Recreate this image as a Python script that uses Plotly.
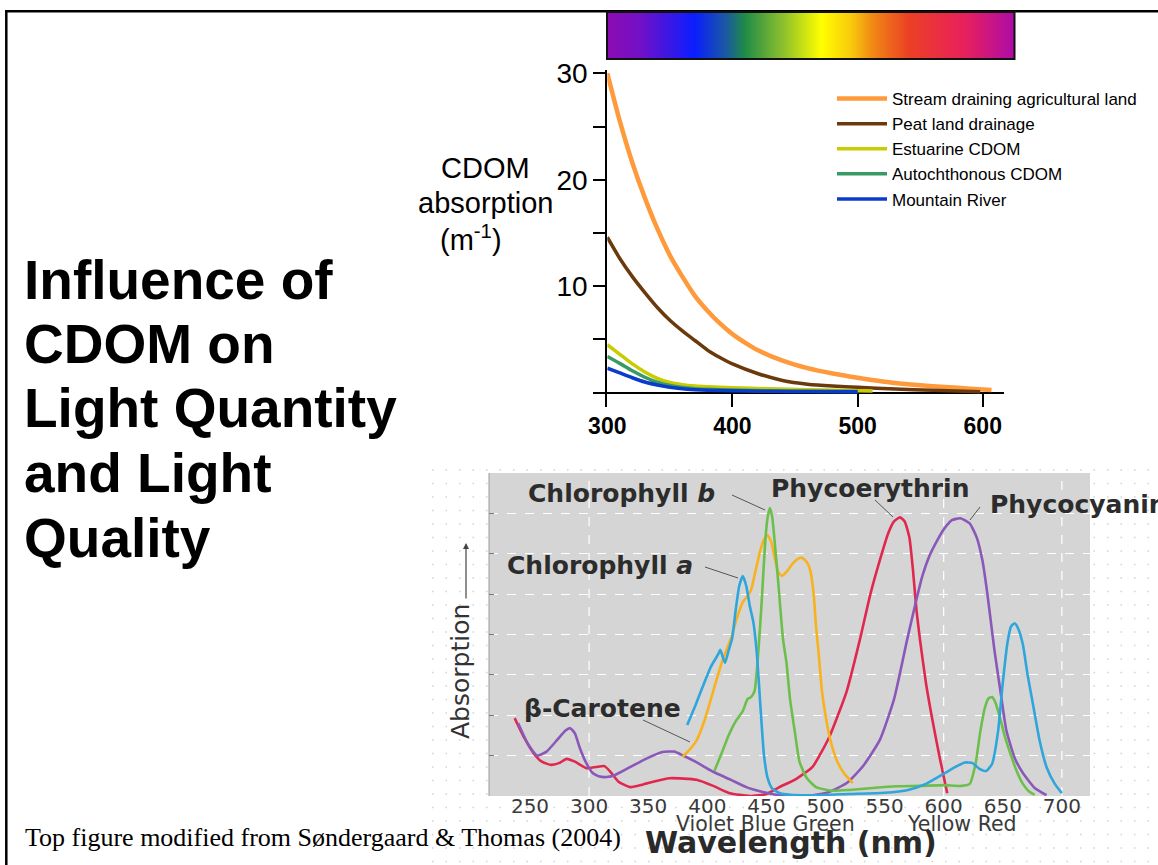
import plotly.graph_objects as go

W, H = 1158, 865


def px(x):
    return x / W


def py(y):
    return 1 - y / H


# ---------------- Top chart: CDOM absorption (m^-1) ----------------
stream_nm = [300, 310, 320, 330, 340, 350, 360, 370, 380, 390, 400, 410, 420, 440, 460, 480, 500, 520, 540, 560, 580, 600, 607]
stream_abs = [30, 25.5, 21.6, 18.3, 15.4, 12.9, 10.9, 9.1, 7.7, 6.5, 5.5, 4.7, 4.0, 3.0, 2.3, 1.8, 1.4, 1.05, 0.8, 0.6, 0.45, 0.3, 0.25]

peat_nm = [300, 310, 320, 330, 340, 350, 360, 370, 380, 390, 400, 420, 440, 460, 480, 500, 530, 560, 598]
peat_abs = [14.6, 12.6, 10.9, 9.4, 8.0, 6.8, 5.8, 4.9, 4.0, 3.3, 2.7, 1.8, 1.15, 0.8, 0.62, 0.5, 0.35, 0.22, 0.08]

estuarine_nm = [300, 310, 320, 330, 340, 350, 360, 370, 380, 400, 430, 460, 490, 512]
estuarine_abs = [4.5, 3.6, 2.7, 1.95, 1.35, 0.95, 0.75, 0.63, 0.56, 0.46, 0.36, 0.28, 0.2, 0.15]

autoch_nm = [300, 310, 320, 330, 340, 350, 360, 370, 380, 400, 430, 460, 500]
autoch_abs = [3.4, 2.75, 2.05, 1.45, 0.98, 0.67, 0.48, 0.37, 0.31, 0.24, 0.17, 0.13, 0.1]

mountain_nm = [300, 310, 320, 330, 340, 350, 360, 370, 380, 400, 430, 460, 500]
mountain_abs = [2.3, 1.85, 1.4, 1.0, 0.72, 0.5, 0.36, 0.28, 0.23, 0.18, 0.13, 0.1, 0.08]

cdom_names = ["Stream draining agricultural land", "Peat land drainage", "Estuarine CDOM",
              "Autochthonous CDOM", "Mountain River"]
cdom_colors = ["#ff9a3c", "#6b3a0c", "#c8cc00", "#3a9a66", "#0a3ccc"]

top_xticks = [300, 400, 500, 600]
top_yticks = [0, 5, 10, 15, 20, 25, 30]
top_yticktext = ["", "", "10", "", "20", "", "30"]

# spectrum bar stops
spectrum_stops = [0.0, 0.08, 0.21, 0.29, 0.335, 0.43, 0.525, 0.6, 0.65, 0.74, 0.88, 1.0]
spectrum_colors = ["#8c0cb4", "#7010c8", "#0a1eff", "#1a5aa0", "#1e8a48", "#8cc02c",
                   "#ffff00", "#f8c80c", "#f08c14", "#ec4024", "#e8205c", "#b00ca4"]
spectrum_cells = list(range(101))

# ---------------- Bottom chart: pigment absorption spectra ----------------
chla_nm = [383, 390, 396, 403, 409, 411, 413, 415, 418, 421, 424, 427, 430, 433, 436, 439, 442, 445, 448, 451, 455, 462,
           470, 490, 520, 550, 570, 585, 600, 610, 618, 624, 630, 636, 641, 646, 650, 654, 657, 660, 663, 667, 671, 676,
           681, 687, 694, 700]
chla_abs = [1.76, 2.25, 2.7, 3.2, 3.5, 3.62, 3.45, 3.3, 3.6, 3.9, 4.6, 5.2, 5.45, 5.2, 4.7, 4.3, 3.5, 2.2, 1.0, 0.45,
            0.18, 0.06, 0.03, 0.02, 0.05, 0.08, 0.15, 0.3, 0.55, 0.72, 0.83, 0.82, 0.68, 0.62, 0.8, 1.6, 2.8, 3.8, 4.2,
            4.28, 4.15, 3.75, 3.0, 2.2, 1.4, 0.72, 0.3, 0.07]

chlb_nm = [406, 412, 418, 424, 430, 434, 437, 440, 443, 446, 449, 451, 453, 455, 457, 460, 464, 467, 470, 474, 478, 484,
           492, 505, 520, 540, 560, 580, 600, 615, 622, 627, 631, 635, 638, 641, 644, 648, 652, 657, 662, 667, 672, 677]
chlb_abs = [0.62, 1.05, 1.5, 1.85, 2.1, 2.4, 2.45, 2.6, 3.5, 4.8, 6.3, 6.9, 7.13, 6.9, 6.3, 5.3, 3.9, 3.3, 2.4, 1.6,
            0.85, 0.45, 0.22, 0.13, 0.15, 0.2, 0.24, 0.25, 0.27, 0.25, 0.3, 0.8, 1.6, 2.2, 2.42, 2.45, 2.3, 1.9, 1.45,
            1.0, 0.6, 0.3, 0.12, 0.03]

carot_nm = [379, 385, 391, 398, 405, 413, 420, 425, 430, 434, 437, 441, 445, 448, 451, 454, 457, 460, 463, 467, 472, 477,
            480, 484, 487, 490, 492, 494, 497, 500, 504, 510, 516, 523]
carot_abs = [0.97, 1.15, 1.38, 1.9, 2.6, 3.37, 3.9, 4.4, 4.8, 4.95, 5.1, 5.6, 6.1, 6.35, 6.46, 6.3, 5.9, 5.55, 5.45,
             5.55, 5.75, 5.88, 5.9, 5.8, 5.6, 5.0, 4.2, 3.6, 2.6, 2.0, 1.4, 0.85, 0.55, 0.32]

phycoe_nm = [237, 245, 253, 260, 268, 275, 281, 288, 298, 306, 313, 318, 325, 335, 345, 355, 368, 380, 391, 405, 419,
             436, 450, 461, 475, 489, 503, 518, 529, 538, 546, 553, 558, 563, 567, 571, 574, 577, 580, 585, 591, 597, 603]
phycoe_abs = [1.93, 1.45, 1.06, 0.85, 0.77, 0.82, 0.92, 0.85, 0.69, 0.72, 0.74, 0.6, 0.35, 0.22, 0.28, 0.36, 0.44,
              0.43, 0.4, 0.25, 0.07, 0.0, 0.05, 0.22, 0.42, 0.72, 1.45, 2.6, 3.86, 5.0, 5.84, 6.5, 6.8, 6.9, 6.8, 6.4,
              5.6, 4.6, 3.86, 2.8, 1.8, 0.9, 0.07]

phycoc_nm = [240, 248, 256, 264, 273, 280, 284, 288, 292, 297, 303, 309, 315, 322, 335, 348, 362, 372, 379, 390, 405,
             420, 433, 447, 461, 475, 489, 503, 518, 532, 546, 558, 569, 576, 582, 588, 594, 600, 607, 614, 622, 628,
             633, 637, 640, 643, 648, 653, 660, 667, 677, 687]
phycoc_abs = [1.8, 1.3, 1.0, 1.1, 1.39, 1.62, 1.68, 1.55, 1.2, 0.85, 0.57, 0.48, 0.47, 0.52, 0.72, 0.92, 1.09, 1.1,
              1.01, 0.85, 0.6, 0.4, 0.22, 0.1, 0.02, 0.0, 0.02, 0.1, 0.32, 0.75, 1.39, 2.4, 3.86, 4.75, 5.45, 5.95,
              6.3, 6.6, 6.83, 6.88, 6.75, 6.4, 5.8, 5.0, 4.3, 3.6, 2.6, 1.63, 0.95, 0.57, 0.2, 0.02]

bottom_xticks = [250, 300, 350, 400, 450, 500, 550, 600, 650, 700]
bottom_ygrid = [1, 2, 3, 4, 5, 6, 7]
bottom_vgrid = [300, 600, 700]

fig = go.Figure()

# ---- spectrum bar ----
fig.add_trace(go.Heatmap(
    z=[spectrum_cells], x=spectrum_cells, y=[0],
    colorscale=[[s, c] for s, c in zip(spectrum_stops, spectrum_colors)],
    zmin=0, zmax=100, showscale=False, zsmooth="best", hoverinfo="skip",
    xaxis="x3", yaxis="y3"))

# ---- top CDOM curves ----
cdom_x = [stream_nm, peat_nm, estuarine_nm, autoch_nm, mountain_nm]
cdom_y = [stream_abs, peat_abs, estuarine_abs, autoch_abs, mountain_abs]
cdom_w = [4.5, 3.5, 3.5, 3.5, 3.5]
for xs, ys, nm, col, w in zip(cdom_x, cdom_y, cdom_names, cdom_colors, cdom_w):
    fig.add_trace(go.Scatter(x=xs, y=ys, mode="lines", name=nm,
                             line=dict(color=col, width=w, shape="spline", smoothing=0.6),
                             xaxis="x", yaxis="y"))

# ---- bottom pigment spectra ----
pig = [
    (phycoe_nm, phycoe_abs, "#e0284f"),
    (phycoc_nm, phycoc_abs, "#8a58b8"),
    (carot_nm, carot_abs, "#f7b21e"),
    (chlb_nm, chlb_abs, "#6dbf4b"),
    (chla_nm, chla_abs, "#2ea6dc"),
]
for xs, ys, col in pig:
    fig.add_trace(go.Scatter(x=xs, y=ys, mode="lines", showlegend=False,
                             line=dict(color=col, width=2.6, shape="spline", smoothing=0.5),
                             xaxis="x2", yaxis="y2", hoverinfo="skip"))

shapes = []
# dotted background texture around the lower figure
for k in range(30):
    yy = 470 + 13.5 * k
    if yy > 866:
        break
    shapes.append(dict(type="line", xref="paper", yref="paper", x0=px(432), x1=px(1158), y0=py(yy), y1=py(yy),
                       line=dict(color="#d2d2d2", width=1.4, dash="1.5px,12px"), layer="below"))
# frame
shapes.append(dict(type="line", xref="paper", yref="paper", x0=px(6.3), x1=px(6.3), y0=py(10), y1=0,
                   line=dict(color="black", width=2.5)))
shapes.append(dict(type="line", xref="paper", yref="paper", x0=px(5), x1=1, y0=py(11.2), y1=py(11.2),
                   line=dict(color="black", width=2.5)))
# spectrum border
shapes.append(dict(type="rect", xref="paper", yref="paper", x0=px(607), x1=px(1014.5), y0=py(59), y1=py(12),
                   line=dict(color="#111", width=2)))
# bottom plot background
shapes.append(dict(type="rect", xref="paper", yref="paper", x0=px(489), x1=px(1090), y0=py(796), y1=py(473),
                   fillcolor="#d5d5d5", line=dict(width=0), layer="below"))
shapes.append(dict(type="line", xref="paper", yref="paper", x0=px(489), x1=px(489), y0=py(796), y1=py(473),
                   line=dict(color="#9a9a9a", width=1), layer="below"))
for v in bottom_vgrid:
    shapes.append(dict(type="line", xref="x2", yref="paper", x0=v, x1=v, y0=py(796), y1=py(473),
                       line=dict(color="white", width=1.2, dash="dash"), layer="below"))
# leader lines
leaders = [((732, 495), (765, 510)), ((705, 567), (738, 578)), ((875, 500), (893, 517)),
           ((980, 507), (970, 520)), ((643, 720), (690, 742))]
for (a, b) in leaders:
    shapes.append(dict(type="line", xref="paper", yref="paper", x0=px(a[0]), y0=py(a[1]), x1=px(b[0]), y1=py(b[1]),
                       line=dict(color="#555", width=1)))

ann = []
# title
title_lines = [("Influence of", 280), ("CDOM on", 344), ("Light Quantity", 408), ("and Light", 473), ("Quality", 538)]
for t, yc in title_lines:
    ann.append(dict(text=t, x=px(22), y=py(yc), xref="paper", yref="paper", xanchor="left", yanchor="middle",
                    showarrow=False, font=dict(family="Liberation Sans", size=55, color="black", weight="bold")))
# top y-title
for t, xc, yc in [("CDOM", 485, 168), ("absorption", 485, 203), ("(m<sup>-1</sup>)", 471, 238)]:
    ann.append(dict(text=t, x=px(xc), y=py(yc), xref="paper", yref="paper", xanchor="center", yanchor="middle",
                    showarrow=False, font=dict(family="Liberation Sans", size=29, color="black")))
# bottom labels
lab_font = dict(family="DejaVu Sans", size=25, color="#2c2c2c", weight="bold")
for t, xc, yc, xa in [("Chlorophyll <i>b</i>", 621, 493, "center"), ("Chlorophyll <i>a</i>", 600, 565, "center"),
                      ("Phycoerythrin", 870, 488, "center"), ("Phycocyanin", 988, 504, "left"),
                      ("β-Carotene", 602, 708, "center")]:
    ann.append(dict(text=t, x=px(xc), y=py(yc), xref="paper", yref="paper", xanchor=xa, yanchor="middle",
                    showarrow=False, font=lab_font))
ann.append(dict(text="Absorption", x=px(460), y=py(672), xref="paper", yref="paper", xanchor="center",
                yanchor="middle", textangle=-90, showarrow=False,
                font=dict(family="DejaVu Sans", size=25, color="#333")))
ann.append(dict(text="", x=px(466), y=py(543), xref="paper", yref="paper", ax=0, ay=57, showarrow=True,
                arrowhead=2, arrowsize=1, arrowwidth=1.2, arrowcolor="#444"))
ann.append(dict(text="Violet Blue Green", x=px(766), y=py(824), xref="paper", yref="paper", xanchor="center",
                yanchor="middle", showarrow=False, font=dict(family="DejaVu Sans", size=20.5, color="#3a3a3a")))
ann.append(dict(text="Yellow Red", x=px(962), y=py(824), xref="paper", yref="paper", xanchor="center",
                yanchor="middle", showarrow=False, font=dict(family="DejaVu Sans", size=20.5, color="#3a3a3a")))
ann.append(dict(text="Wavelength (nm)", x=px(791), y=py(842), xref="paper", yref="paper", xanchor="center",
                yanchor="middle", showarrow=False,
                font=dict(family="DejaVu Sans", size=30, color="#2a2a2a", weight="bold")))
ann.append(dict(text="Top figure modified from Søndergaard &amp; Thomas (2004)", x=px(23), y=py(837), xref="paper",
                yref="paper", xanchor="left", yanchor="middle", showarrow=False,
                font=dict(family="Liberation Serif", size=26, color="black")))

fig.update_layout(
    width=W, height=H, margin=dict(l=0, r=0, t=0, b=0, pad=0, autoexpand=False),
    paper_bgcolor="white", plot_bgcolor="rgba(0,0,0,0)",
    showlegend=True,
    legend=dict(x=px(832), y=py(81), xanchor="left", yanchor="top", bgcolor="rgba(0,0,0,0)",
                font=dict(family="Liberation Sans", size=17, color="black"), tracegroupgap=0, itemwidth=50),
    xaxis=dict(domain=[px(607.3), px(1004)], range=[300, 617], anchor="y", showgrid=False, zeroline=False,
               showline=False, ticks="inside", ticklen=13, tickwidth=2, tickcolor="black", tickvals=top_xticks,
               tickfont=dict(family="Liberation Sans", size=23, color="black", weight="bold"), ticklabelstandoff=3,
               automargin=False),
    yaxis=dict(domain=[py(406.5), py(70.1)], range=[-1.3, 30.3], anchor="x", showgrid=False, zeroline=True,
               zerolinecolor="black", zerolinewidth=2, showline=True, linecolor="black", linewidth=2,
               ticks="outside", ticklen=12, tickwidth=2, tickcolor="black", tickvals=top_yticks,
               ticktext=top_yticktext, tickfont=dict(family="Liberation Sans", size=28, color="black"),
               automargin=False),
    xaxis2=dict(domain=[px(489), px(1090)], range=[215.3, 723.8], anchor="y2", showgrid=False, zeroline=False,
                showline=False, ticks="", tickvals=bottom_xticks, ticklabelstandoff=-4,
                tickfont=dict(family="DejaVu Sans", size=20, color="#3a3a3a"), automargin=False),
    yaxis2=dict(domain=[py(796), py(473)], range=[0, 8], anchor="x2", showgrid=True, gridcolor="white",
                griddash="dash", gridwidth=1.3, zeroline=False, showline=False, tickvals=bottom_ygrid,
                showticklabels=False, ticks="inside", ticklen=5, tickcolor="#777", automargin=False),
    xaxis3=dict(domain=[px(607), px(1014.5)], range=[-0.5, 100.5], anchor="y3", visible=False, automargin=False),
    yaxis3=dict(domain=[py(59), py(12)], range=[-0.5, 0.5], anchor="x3", visible=False, automargin=False),
    shapes=shapes, annotations=ann,
)

fig.write_html(
    "out.html",
    config={"displayModeBar": False},
    post_script=("document.documentElement.style.margin='0';document.body.style.margin='0';"
                 "document.body.style.padding='0';document.body.style.overflow='hidden';"
                 "document.documentElement.style.overflow='hidden';"
                 "var gd=document.getElementById('{plot_id}');"
                 "gd.style.position='fixed';gd.style.left='0px';gd.style.top='0px';"),
)
